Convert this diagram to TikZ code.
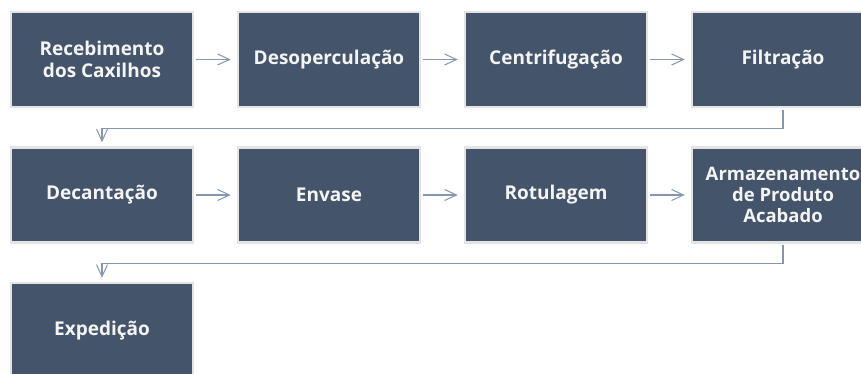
\documentclass[tikz,border=0pt]{standalone}
\usepackage{fontspec}
\setmainfont{Open Sans}
\usetikzlibrary{arrows.meta}
\definecolor{boxfill}{HTML}{44546A}
\definecolor{boxedge}{HTML}{E4E4E4}
\definecolor{linec}{HTML}{8496B0}
\definecolor{txt}{HTML}{F4F4F4}
\begin{document}
\begin{tikzpicture}[x=1pt,y=-1pt,
  stepbox/.style={draw=boxedge, line width=2.5pt, fill=boxfill, minimum width=182pt, minimum height=95pt,
    inner sep=0pt, text=txt, align=center, font=\fontsize{19}{21.5}\selectfont\bfseries},
  flow/.style={draw=linec, line width=1.1pt, -{Straight Barb[length=12pt,width=11pt,line width=1pt]}}]
\useasboundingbox (0,0) rectangle (861,374);
\clip (0,0) rectangle (861,374);
\fill[white] (0,0) rectangle (861,374);
% row 1
\node[stepbox] (r1) at (102,59.5) {Recebimento\\dos Caxilhos};
\node[stepbox] (d1) at (329,59.5) {Desoperculação};
\node[stepbox] (c1) at (556,59.5) {Centrifugação};
\node[stepbox] (f1) at (783,59.5) {Filtração};
% row 2
\node[stepbox] (d2) at (102,195) {Decantação};
\node[stepbox] (e2) at (329,195) {Envase};
\node[stepbox] (r2) at (556,195) {Rotulagem};
\node[stepbox, font=\fontsize{18.5}{21}\selectfont\bfseries] (a2) at (783,195) {Armazenamento\\de Produto\\Acabado};
% row 3
\node[stepbox] (x3) at (102,330.5) {Expedição};
% horizontal arrows
\draw[flow, shorten <=2pt, shorten >=6pt] (r1) -- (d1);
\draw[flow, shorten <=2pt, shorten >=6pt] (d1) -- (c1);
\draw[flow, shorten <=2pt, shorten >=6pt] (c1) -- (f1);
\draw[flow, shorten <=2pt, shorten >=6pt] (d2) -- (e2);
\draw[flow, shorten <=2pt, shorten >=6pt] (e2) -- (r2);
\draw[flow, shorten <=2pt, shorten >=6pt] (r2) -- (a2);
% row wraps
\draw[flow, shorten <=1.5pt, shorten >=4pt] (f1.south) -- ++(0,20) -| (d2.north);
\draw[flow, shorten <=1.5pt, shorten >=4pt] (a2.south) -- ++(0,20) -| (x3.north);
\end{tikzpicture}
\end{document}
